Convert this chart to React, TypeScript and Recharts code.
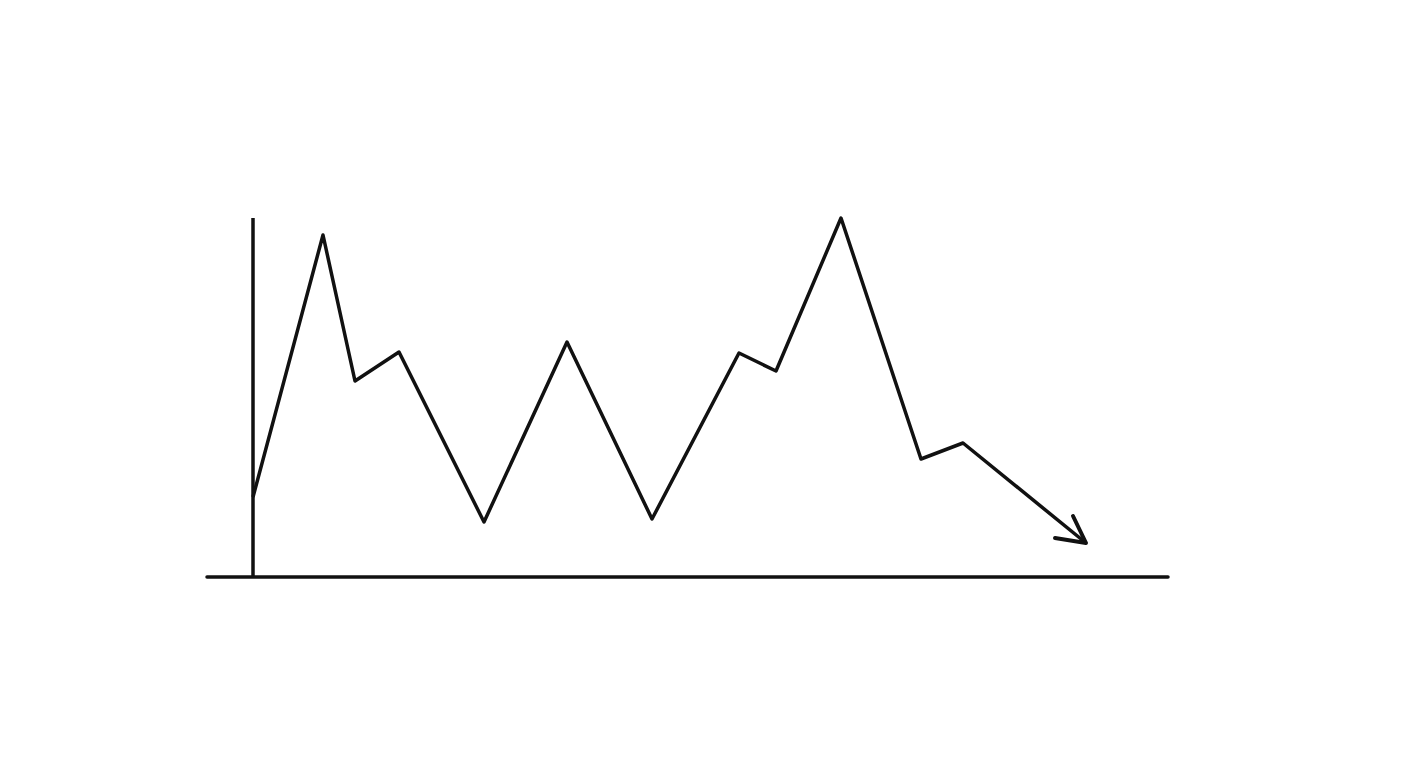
import React from 'react';
import { LineChart, Line, XAxis, YAxis, ReferenceLine } from 'recharts';

// hand-drawn style zigzag, x positions are uneven
const xs = [0, 70, 102, 146, 231, 314, 399, 486, 523, 588, 668, 710, 833];
const ys = [80, 342, 196, 225, 55, 235, 58, 224, 206, 359, 118, 134, 34];

const data = xs.map((x, i) => ({ x, y: ys[i] }));
const lastIndex = data.length - 1;

const ArrowDot = (props: any) => {
  const { cx, cy, index } = props;
  if (index !== lastIndex || cx == null || cy == null) return <g key={`d-${index}`} />;
  return (
    <path
      key={`d-${index}`}
      d={`M${cx - 31},${cy - 5} L${cx},${cy} L${cx - 13},${cy - 27}`}
      fill="none"
      stroke="#111"
      strokeWidth={4}
      strokeLinecap="round"
      strokeLinejoin="round"
    />
  );
};

const App: React.FC = () => {
  return (
    <div style={{ position: 'fixed', top: 0, left: 0, width: 1408, height: 768, background: '#fff' }}>
      <LineChart width={1408} height={768} data={data} margin={{ top: 218, right: 240, bottom: 191, left: 207 }}>
        <XAxis type="number" dataKey="x" domain={[-46, 915]} hide />
        <YAxis type="number" domain={[0, 359]} hide />
        <ReferenceLine x={0} stroke="#111" strokeWidth={3.5} ifOverflow="extendDomain" />
        <ReferenceLine y={0} stroke="#111" strokeWidth={3.5} strokeLinecap="round" />
        <Line
          type="linear"
          dataKey="y"
          stroke="#111"
          strokeWidth={3.5}
          strokeLinejoin="round"
          dot={ArrowDot}
          activeDot={false}
          isAnimationActive={false}
        />
      </LineChart>
    </div>
  );
};

export default App;
